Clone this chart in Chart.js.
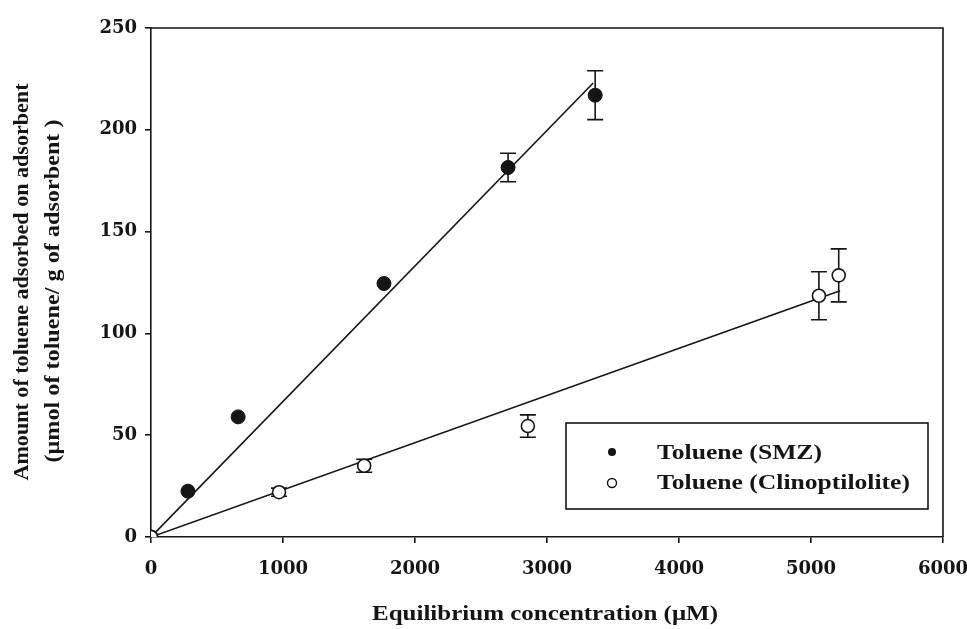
<!DOCTYPE html>
<html>
<head>
<meta charset="utf-8">
<script src="https://cdn.jsdelivr.net/npm/chart.js@4.4.0/dist/chart.umd.min.js"></script>
<style>
  html, body { margin: 0; padding: 0; background: #fff; }
  #wrap { width: 967px; height: 629px; }
</style>
</head>
<body>
<div id="wrap"><canvas id="chart" width="967" height="629"></canvas></div>
<script>
// values
var smzX = [0, 280, 660, 1765, 2705, 3365];
var smzY = [0, 22.5, 59, 124.5, 181.5, 217];
var smzErr = [0, 0, 0, 0, 7, 12];

var clinoX = [0, 970, 1615, 2855, 5060, 5210];
var clinoY = [0, 22, 35, 54.5, 118.5, 128.5];
var clinoErr = [0, 2, 3.2, 5.5, 11.8, 13];

// fitted lines (end points as drawn)
var smzFitX = [0, 3350];
var smzFitY = [0, 223];
var clinoFitX = [0, 5220];
var clinoFitY = [0, 121];

var xTicks = [0, 1000, 2000, 3000, 4000, 5000, 6000];
var yTicks = [0, 50, 100, 150, 200, 250];

var seriesNames = ['Toluene (SMZ)', 'Toluene (Clinoptilolite)'];
var xTitle = 'Equilibrium concentration (\u03bcM)';
var yTitle1 = 'Amount of toluene adsorbed on adsorbent';
var yTitle2 = '(\u03bcmol of toluene/ g of adsorbent )';

var ink = '#151515';

function pts(xs, ys) {
  return xs.map(function(x, i) { return { x: x, y: ys[i] }; });
}

// text squeezed/stretched to the width it has in the scan
function fitText(ctx, text, x, y, w, font, rot) {
  ctx.save();
  ctx.font = font;
  ctx.fillStyle = ink;
  ctx.textAlign = 'center';
  ctx.textBaseline = 'middle';
  ctx.translate(x, y);
  if (rot) ctx.rotate(rot);
  var m = ctx.measureText(text).width;
  ctx.scale(w / m, 1);
  ctx.fillText(text, 0, 0);
  ctx.restore();
}

var errorBars = {
  id: 'errorBars',
  beforeDatasetsDraw: function(chart) {
    var ctx = chart.ctx, xs = chart.scales.x, ys = chart.scales.y;
    var sets = [[smzX, smzY, smzErr], [clinoX, clinoY, clinoErr]];
    ctx.save();
    ctx.strokeStyle = ink;
    ctx.lineWidth = 1.6;
    sets.forEach(function(s) {
      s[0].forEach(function(xv, i) {
        var e = s[2][i];
        if (!e) return;
        var px = xs.getPixelForValue(xv);
        var top = ys.getPixelForValue(s[1][i] + e);
        var bot = ys.getPixelForValue(s[1][i] - e);
        ctx.beginPath();
        ctx.moveTo(px, top); ctx.lineTo(px, bot);
        ctx.moveTo(px - 8, top); ctx.lineTo(px + 8, top);
        ctx.moveTo(px - 8, bot); ctx.lineTo(px + 8, bot);
        ctx.stroke();
      });
    });
    ctx.restore();
  }
};

var frameAndText = {
  id: 'frameAndText',
  afterDraw: function(chart) {
    var ctx = chart.ctx, a = chart.chartArea;
    ctx.save();
    ctx.strokeStyle = ink;
    ctx.lineWidth = 1.6;
    ctx.beginPath();
    ctx.moveTo(a.left, a.top); ctx.lineTo(a.right, a.top); ctx.lineTo(a.right, a.bottom);
    ctx.stroke();

    // legend box
    ctx.strokeRect(566, 423, 362, 86);
    ctx.fillStyle = ink;
    ctx.beginPath(); ctx.arc(612, 452, 4, 0, Math.PI * 2); ctx.fill();
    ctx.fillStyle = '#fff';
    ctx.lineWidth = 1.4;
    ctx.beginPath(); ctx.arc(612, 483, 4.5, 0, Math.PI * 2); ctx.fill(); ctx.stroke();
    ctx.restore();

    var f = 'bold 22px "Liberation Serif"';
    fitText(ctx, seriesNames[0], 657 + 165 / 2, 453, 165, f);
    fitText(ctx, seriesNames[1], 657 + 253 / 2, 483, 253, f);

    fitText(ctx, xTitle, 545, 614, 346, f);
    fitText(ctx, yTitle1, 22, 282, 397, f, -Math.PI / 2);
    fitText(ctx, yTitle2, 53, 291, 343, f, -Math.PI / 2);
  }
};

var tickFont = { family: '"DejaVu Serif"', size: 18, weight: 'bold' };
var plain = function(v) { return String(v); };

new Chart(document.getElementById('chart').getContext('2d'), {
  type: 'scatter',
  data: {
    datasets: [
      {
        label: seriesNames[1],
        data: pts(clinoX, clinoY),
        order: 0,
        pointRadius: 6.5,
        pointBackgroundColor: '#fff',
        pointBorderColor: ink,
        pointBorderWidth: 1.6
      },
      {
        label: seriesNames[0],
        data: pts(smzX, smzY),
        order: 1,
        pointRadius: 7,
        pointBackgroundColor: ink,
        pointBorderColor: ink,
        pointBorderWidth: 1
      },
      {
        label: 'fit SMZ',
        data: pts(smzFitX, smzFitY),
        type: 'line',
        order: 2,
        showLine: true,
        pointRadius: 0,
        borderColor: ink,
        borderWidth: 1.6,
        fill: false
      },
      {
        label: 'fit Clinoptilolite',
        data: pts(clinoFitX, clinoFitY),
        type: 'line',
        order: 3,
        showLine: true,
        pointRadius: 0,
        borderColor: ink,
        borderWidth: 1.6,
        fill: false
      }
    ]
  },
  options: {
    responsive: false,
    animation: false,
    events: [],
    layout: { padding: { top: 28, right: 24, left: 0, bottom: 0 } },
    plugins: { legend: { display: false }, tooltip: { enabled: false } },
    scales: {
      x: {
        type: 'linear',
        min: 0, max: 6000,
        afterBuildTicks: function(s) { s.ticks = xTicks.map(function(v) { return { value: v }; }); },
        afterFit: function(s) { s.height = 92; s.paddingLeft = 0; s.paddingRight = 0; },
        ticks: { font: tickFont, color: ink, padding: 16, maxRotation: 0, callback: plain },
        grid: { drawOnChartArea: false, drawTicks: true, tickLength: 6, color: ink, lineWidth: 1.6 },
        border: { display: true, color: ink, width: 1.6 }
      },
      y: {
        type: 'linear',
        min: 0, max: 250,
        afterBuildTicks: function(s) { s.ticks = yTicks.map(function(v) { return { value: v }; }); },
        afterFit: function(s) { s.width = 151; s.paddingTop = 0; s.paddingBottom = 0; },
        ticks: { font: tickFont, color: ink, padding: 8, callback: plain },
        grid: { drawOnChartArea: false, drawTicks: true, tickLength: 6, color: ink, lineWidth: 1.6 },
        border: { display: true, color: ink, width: 1.6 }
      }
    }
  },
  plugins: [errorBars, frameAndText]
});
</script>
</body>
</html>
